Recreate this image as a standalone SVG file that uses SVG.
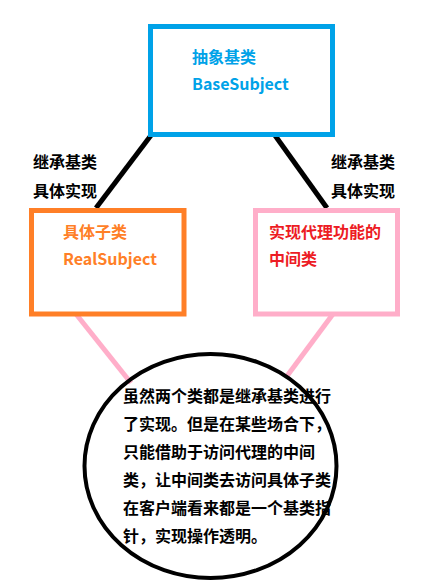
<svg xmlns="http://www.w3.org/2000/svg" width="441" height="586" viewBox="0 0 441 586">
<style>
text{font-family:"Noto Sans CJK SC","Microsoft YaHei",sans-serif;font-size:16px;font-weight:bold}
.blk{fill:#000}
.blue{fill:#00a2e8}
.org{fill:#ff7f27}
.red{fill:#ed1c24}
.box{fill:#fff;stroke-width:5}
</style>
<rect width="441" height="586" fill="#fff"/>
<g id="connectors" stroke-width="5" stroke-linecap="butt">
<line x1="152" y1="134" x2="96" y2="208" stroke="#000"/>
<line x1="274" y1="134" x2="327" y2="208" stroke="#000"/>
<line x1="76" y1="314" x2="131" y2="383" stroke="#ffaec9"/>
<line x1="333" y1="314" x2="287" y2="376" stroke="#ffaec9"/>
</g>
<g id="base">
<rect class="box" x="150.5" y="26.5" width="182" height="108" stroke="#00a2e8"/>
<text class="blue" x="192" y="63">抽象基类</text>
<text class="blue" x="192" y="90">BaseSubject</text>
</g>
<g id="label-left">
<text class="blk" x="33" y="168">继承基类</text>
<text class="blk" x="33" y="197">具体实现</text>
</g>
<g id="label-right">
<text class="blk" x="331" y="168">继承基类</text>
<text class="blk" x="331" y="197">具体实现</text>
</g>
<g id="real">
<rect class="box" x="31.5" y="210.5" width="152.5" height="103.5" stroke="#ff7f27"/>
<text class="org" x="63" y="238">具体子类</text>
<text class="org" x="63" y="265">RealSubject</text>
</g>
<g id="proxy">
<rect class="box" x="255.5" y="210.5" width="142" height="103.5" stroke="#ffaec9"/>
<text class="red" x="269" y="238">实现代理功能的</text>
<text class="red" x="269" y="265">中间类</text>
</g>
<g id="note">
<ellipse cx="210.5" cy="466" rx="126" ry="112" fill="none" stroke="#000" stroke-width="4"/>
<text class="blk" x="123" y="402">虽然两个类都是继承基类进行</text>
<text class="blk" x="123" y="430">了实现。但是在某些场合下，</text>
<text class="blk" x="123" y="458">只能借助于访问代理的中间</text>
<text class="blk" x="123" y="486">类，让中间类去访问具体子类</text>
<text class="blk" x="123" y="514">在客户端看来都是一个基类指</text>
<text class="blk" x="123" y="542">针，实现操作透明。</text>
</g>
</svg>
